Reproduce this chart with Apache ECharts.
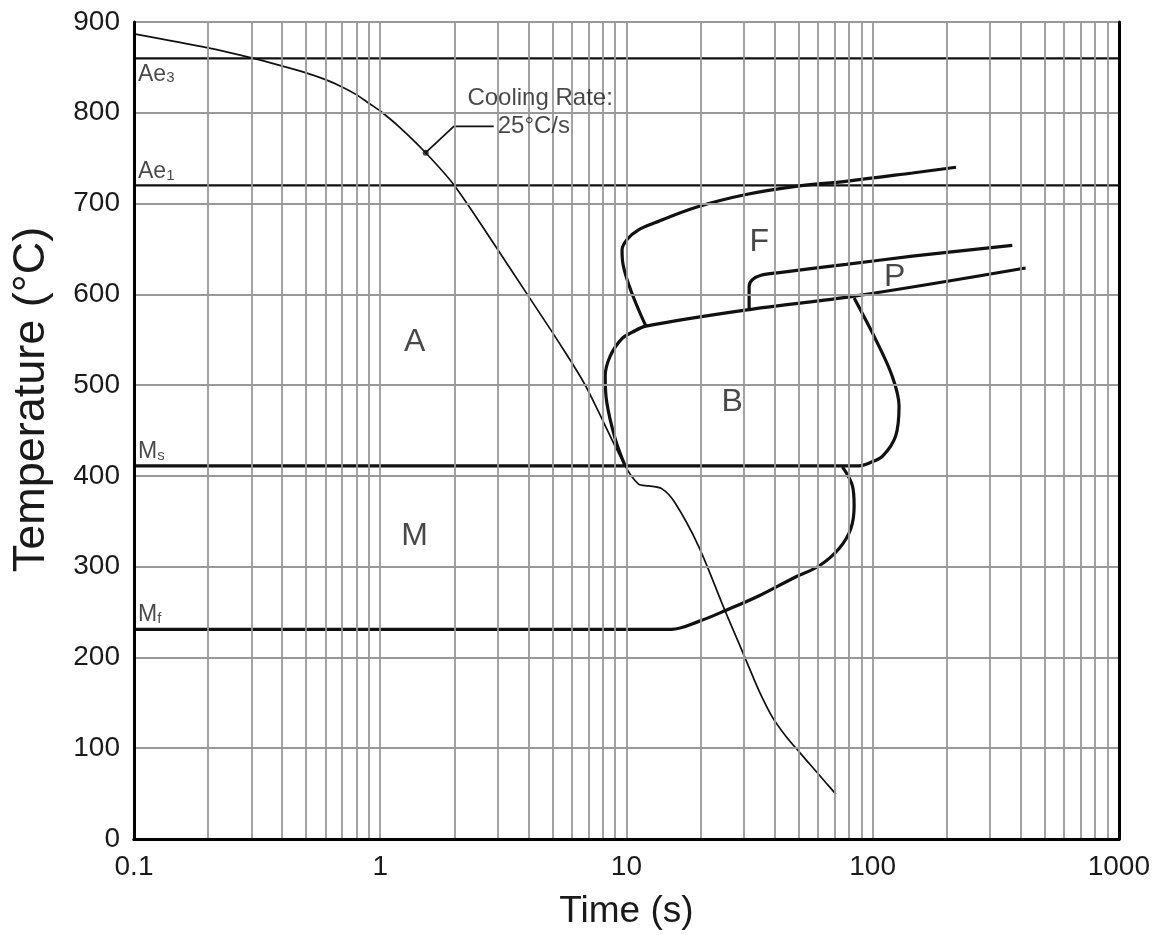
<!DOCTYPE html>
<html>
<head>
<meta charset="utf-8">
<script src="https://cdn.jsdelivr.net/npm/echarts@6/dist/echarts.min.js"></script>
<style>
html,body{margin:0;padding:0;background:#fff;}
#chart{width:1153px;height:935px;}
</style>
</head>
<body>
<div id="chart"></div>
<script>
// ---- data ----
const xTickLabels = [0.1, 1, 10, 100, 1000];
const minorGridTimes = [0.2,0.3,0.4,0.5,0.6,0.7,0.8,0.9,2,3,4,5,6,7,8,9,20,30,40,50,60,70,80,90,200,300,400,500,600,700,800,900];

const coolingCurve = [[0.1,887],[0.2,871.5],[0.3,860.5],[0.4,851.5],[0.5,844],[0.6,836.5],[0.7,828.5],[0.8,820],[0.9,810.5],[1.0,802],[1.2,784],[1.53,756],[2.0,720],[2.94,653],[4.0,598],[5.26,549],[6.8,500],[9.88,411],[11.2,391],[12.3,389],[13.9,386],[15.7,371],[19.6,323],[25.1,252],[28.7,215],[31.6,188],[34.6,163],[39.2,134],[44.5,113],[50.3,96],[57,79],[64.6,62],[70.9,49.5]];

const ae3Line = [[0.1,860],[1000,860]];
const ae1Line = [[0.1,720],[1000,720]];

// Ms line continuing into the right boundary of the bainite region
const msBainiteRight = [[0.1,411],[80,411],[88,411],[98.6,415],[110,422],[124,444],[128,477],[120,510],[103,550],[84.1,596]];
// Mf line continuing into the martensite lower-right boundary
const mfMartensite = [[0.1,231],[12,231],[15.2,231],[19.8,240],[25.4,252],[34.6,268],[47.3,287],[60.7,301],[73.1,320],[81.6,342],[84.1,367],[82.8,389],[75.4,410]];
// Bainite nose and its upper boundary (lower pearlite line)
const bainiteTop = [[9.88,411],[9.0,441],[8.32,481],[8.2,510],[8.59,532],[9.57,551],[10.6,558.5],[12.0,565],[32.1,583.5],[84.3,598],[418,629]];
// Ferrite start curve
const ferriteStart = [[12.0,565],[9.66,635],[9.6,649],[10.1,661],[11.2,671],[12.8,678],[19.2,696],[30.6,710],[48.8,719],[77.8,724.5],[145,733.7],[218,740]];
// Pearlite upper line
const pearliteTop = [[31.5,584],[31.5,609],[32.4,616],[35.2,621],[41.8,624],[78,633],[145,642],[369,654]];

const regionNames = ['A','M','F','P','B'];
const regionTimes = [1.38, 1.38, 34.6, 123, 26.9];
const regionTemps = [547, 334, 657, 619, 481];

const lineLabelMain = ['Ae','Ae','M','M'];
const lineLabelSub  = ['3','1','s','f'];
const lineLabelTemps = [844, 737, 428, 249];

const coolingMarker = [1.53, 756];
const leaderLine = [[1.53,756],[1.99,785],[2.89,785]];
const annotTitle = 'Cooling Rate:';
const annotRate = '25°C/s';
const annotTitlePos = [2.26, 816];
const annotRatePos = [2.89, 785];

// ---- chart ----
const FONT = "'Liberation Sans', Arial, sans-serif";
const INK = '#1a1a1a';
const GRIDC = '#999';
const chart = echarts.init(document.getElementById('chart'));

function curve(data, width, smooth) {
  return {
    type: 'line', data: data, symbol: 'none', smooth: smooth,
    lineStyle: {color: '#111', width: width}, z: 3, silent: true, animation: false
  };
}

const lineLabelData = lineLabelTemps.map((T, i) => ({
  value: [0.1, T],
  label: {
    show: true, position: 'right', distance: 4,
    formatter: '{b|' + lineLabelMain[i] + '}{s|' + lineLabelSub[i] + '}',
    rich: {
      b: {fontSize: 23, lineHeight: 26, color: INK, fontFamily: FONT, verticalAlign: 'bottom'},
      s: {fontSize: 15, lineHeight: 15, color: INK, fontFamily: FONT, verticalAlign: 'bottom'}
    }
  }
}));

const regionData = regionNames.map((n, i) => ({
  value: [regionTimes[i], regionTemps[i]],
  label: {show: true, position: 'inside', formatter: n, fontSize: 32, color: INK, fontFamily: FONT}
}));

const frameAxisLine = {show: true, lineStyle: {color: '#000', width: 3}};

const option = {
  animation: false,
  backgroundColor: '#fff',
  grid: {left: 134, right: 33, top: 22, bottom: 94},
  xAxis: [{
    type: 'log', logBase: 10, min: 0.1, max: 1000,
    name: 'Time (s)', nameLocation: 'middle', nameGap: 54,
    nameTextStyle: {fontSize: 37, color: INK, fontFamily: FONT},
    axisLine: frameAxisLine,
    axisTick: {show: false},
    axisLabel: {fontSize: 28, color: INK, fontFamily: FONT, margin: 14,
      formatter: v => { const s = xTickLabels.find(t => Math.abs(t - v) / t < 1e-6); return s === undefined ? '' : String(s); }},
    splitLine: {show: true, lineStyle: {color: GRIDC, width: 1.8}},
    z: 6
  }, {
    type: 'log', logBase: 10, min: 0.1, max: 1000, position: 'top',
    axisLine: frameAxisLine, axisTick: {show: false}, axisLabel: {show: false}, splitLine: {show: false}, z: 6
  }],
  yAxis: [{
    type: 'value', min: 0, max: 900, interval: 100,
    name: 'Temperature (°C)', nameLocation: 'middle', nameGap: 80, nameRotate: 90,
    nameTextStyle: {fontSize: 45, color: INK, fontFamily: FONT, padding: [0, 0, 0, 62]},
    axisLine: frameAxisLine,
    axisTick: {show: false},
    axisLabel: {fontSize: 28, color: INK, fontFamily: FONT, margin: 14},
    splitLine: {show: true, lineStyle: {color: GRIDC, width: 1.8}},
    z: 6
  }, {
    type: 'value', min: 0, max: 900, interval: 100, position: 'right',
    axisLine: frameAxisLine, axisTick: {show: false}, axisLabel: {show: false}, splitLine: {show: false}, z: 6
  }],
  series: [
    {
      type: 'line', data: [[0.1, 0]], symbol: 'none', lineStyle: {opacity: 0}, z: 1, silent: true,
      markLine: {
        silent: true, symbol: ['none', 'none'], animation: false,
        label: {show: false},
        lineStyle: {color: GRIDC, width: 1.8, type: 'solid'},
        data: minorGridTimes.map(t => ({xAxis: t}))
      }
    },
    curve(ae3Line, 2.2, false),
    curve(ae1Line, 2.2, false),
    curve(coolingCurve, 1.7, 0.3),
    curve(msBainiteRight, 3.2, 0.35),
    curve(mfMartensite, 3.2, 0.35),
    curve(bainiteTop, 3.2, 0.35),
    curve(ferriteStart, 3.2, 0.35),
    curve(pearliteTop, 3.2, 0.35),
    curve(leaderLine, 1.7, false),
    {
      type: 'scatter', data: [coolingMarker], symbol: 'circle', symbolSize: 6,
      itemStyle: {color: '#111'}, z: 4, silent: true
    },
    {
      type: 'scatter', data: lineLabelData, symbolSize: 0, z: 5, silent: true
    },
    {
      type: 'scatter', data: regionData, symbolSize: 0, z: 5, silent: true
    },
    {
      type: 'scatter', symbolSize: 0, z: 5, silent: true,
      data: [
        {value: annotTitlePos, label: {show: true, position: 'right', distance: 0, formatter: annotTitle, fontSize: 24, color: INK, fontFamily: FONT}},
        {value: annotRatePos, label: {show: true, position: 'right', distance: 4, formatter: annotRate, fontSize: 24, color: INK, fontFamily: FONT}}
      ]
    }
  ]
};
chart.setOption(option);
</script>
</body>
</html>
